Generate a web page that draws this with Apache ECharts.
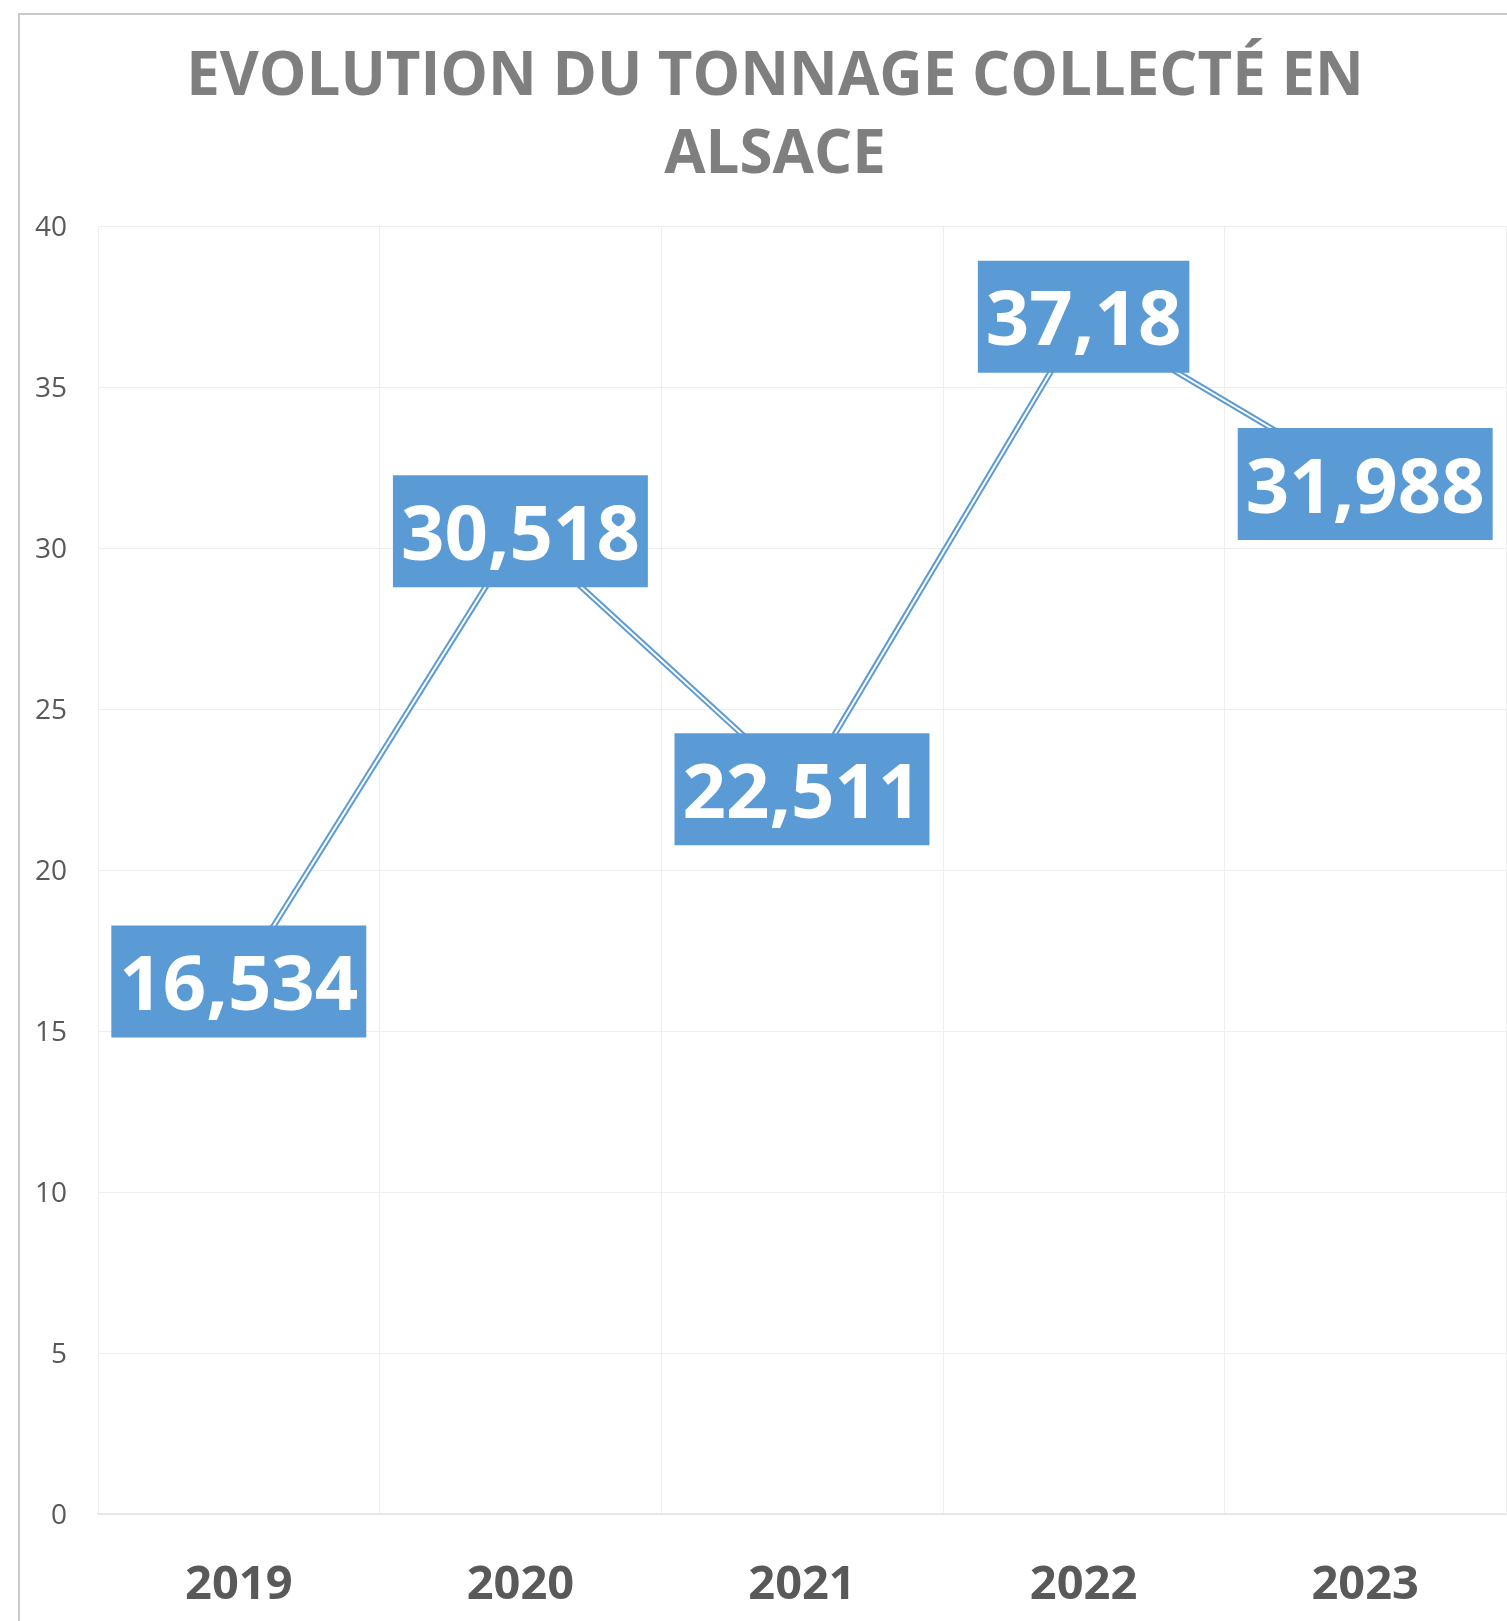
<!DOCTYPE html>
<html>
<head>
<meta charset="utf-8">
<script src="https://cdn.jsdelivr.net/npm/echarts@6/dist/echarts.min.js"></script>
<style>
	html, body { margin: 0; padding: 0; background: #fff; overflow: hidden; }
	#wrap { position: relative; width: 1507px; height: 1621px; overflow: hidden; }
	#frame { position: absolute; left: 18px; top: 13px; width: 1600px; height: 1700px; border: 2px solid #cacaca; box-sizing: border-box; }
	#main { position: absolute; left: 0; top: 0; width: 1550px; height: 1621px; }
</style>
</head>
<body>
<div id="wrap">
	<div id="frame"></div>
	<div id="main"></div>
</div>
<script>
// données
const annees = ['2019', '2020', '2021', '2022', '2023'];
const tonnage = [16.534, 30.518, 22.511, 37.18, 31.988];
const titre = 'EVOLUTION DU TONNAGE COLLECTÉ EN\nALSACE';

const bleu = '#5b9bd5';
let myChart = echarts.init(document.getElementById('main'));

// format français : virgule décimale
function fr(v) {
	return String(v).replace('.', ',');
}

let option = {
	animation: false,
	title: {
		text: titre,
		left: 'center',
		top: 34,
		textStyle: {
			fontFamily: 'Open Sans',
			fontWeight: 'bold',
			fontSize: 60,
			lineHeight: 78,
			color: '#7f7f7f'
		}
	},
	grid: {
		left: 98,
		right: 44,
		top: 226,
		bottom: 107
	},
	xAxis: {
		type: 'category',
		data: annees,
		boundaryGap: true,
		axisTick: {show: false},
		axisLine: {lineStyle: {color: '#e2e2e2', width: 1.5}},
		splitLine: {show: true, lineStyle: {color: '#eeeeee', width: 1}},
		axisLabel: {
			margin: 48,
			fontFamily: 'Open Sans',
			fontWeight: 'bold',
			fontSize: 47,
			color: '#595959'
		}
	},
	yAxis: {
		type: 'value',
		min: 0,
		max: 40,
		interval: 5,
		axisLine: {show: false},
		axisTick: {show: false},
		splitLine: {lineStyle: {color: '#eeeeee', width: 1}},
		axisLabel: {
			margin: 31,
			formatter: '{a|{value}}',
			rich: {
				a: {
					fontFamily: 'Open Sans',
					fontSize: 28,
					lineHeight: 34,
					color: '#595959',
					padding: [4, 0, 0, 0]
				}
			}
		}
	},
	series: [
		{
			// trait extérieur de la ligne double
			type: 'line',
			data: tonnage,
			z: 2,
			symbol: 'none',
			lineStyle: {color: bleu, width: 6},
			silent: true
		},
		{
			// trait intérieur blanc + étiquettes
			type: 'line',
			data: tonnage,
			z: 3,
			symbol: 'circle',
			symbolSize: 1,
			itemStyle: {color: bleu},
			lineStyle: {color: '#ffffff', width: 2},
			label: {
				show: true,
				position: 'inside',
				formatter: function (p) { return '{v|' + fr(p.value) + '}'; },
				backgroundColor: bleu,
				padding: [18, 8, 4, 8],
				rich: {
					v: {
						fontFamily: 'Open Sans',
						fontWeight: 'bold',
						fontSize: 76,
						lineHeight: 90,
						color: '#ffffff'
					}
				}
			}
		}
	]
};

myChart.setOption(option);
</script>
</body>
</html>
